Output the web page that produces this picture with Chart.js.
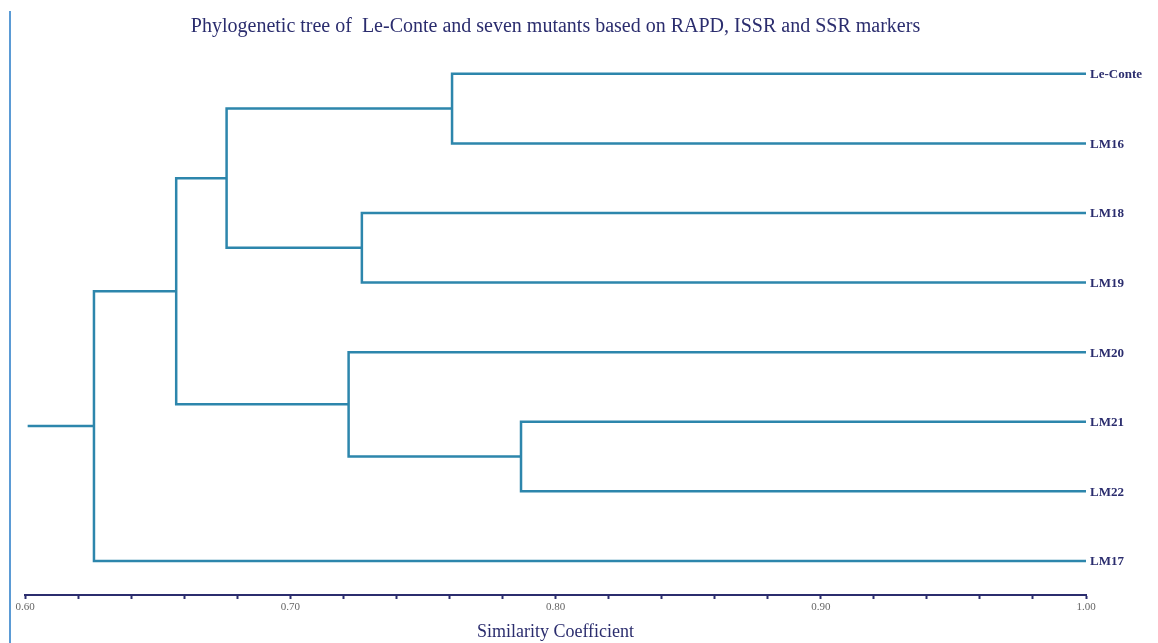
<!DOCTYPE html>
<html>
<head>
<meta charset="utf-8">
<script src="https://cdn.jsdelivr.net/npm/chart.js@4"></script>
<style>
  html, body { margin: 0; padding: 0; background: #fff; }
  #wrap { position: relative; width: 1158px; height: 643px; }
</style>
</head>
<body>
<div id="wrap"><canvas id="tree"></canvas></div>
<script>
// leaves, top to bottom
const leaves = ['Le-Conte', 'LM16', 'LM18', 'LM19', 'LM20', 'LM21', 'LM22', 'LM17'];
// merges: cluster ids 0-7 are leaves, 8+ are the merges in this order
const mergeA = [0, 2, 8, 5, 4, 10, 13];
const mergeB = [1, 3, 9, 6, 11, 12, 7];
const mergeSim = [0.761, 0.727, 0.676, 0.787, 0.722, 0.657, 0.626];
const rootSim = 0.601;
const xTicksMajor = [0.6, 0.7, 0.8, 0.9, 1.0];

const lineColor = '#2d86ac';
const navy = '#2b2d6e';

// build the step lines
const clusterX = leaves.map(() => 1.0);
const clusterY = leaves.map((_, i) => i);
const datasets = [];
for (let i = 0; i < mergeSim.length; i++) {
    const a = mergeA[i], b = mergeB[i], s = mergeSim[i];
    datasets.push({
        data: [
            {x: clusterX[a], y: clusterY[a]},
            {x: s, y: clusterY[a]},
            {x: s, y: clusterY[b]},
            {x: clusterX[b], y: clusterY[b]}
        ]
    });
    clusterX.push(s);
    clusterY.push((clusterY[a] + clusterY[b]) / 2);
}
const rootY = clusterY[clusterY.length - 1];
datasets.push({ data: [{x: rootSim, y: rootY}, {x: mergeSim[mergeSim.length - 1], y: rootY}] });
datasets.forEach(d => {
    d.showLine = true;
    d.borderColor = lineColor;
    d.borderWidth = 2.5;
    d.pointRadius = 0;
    d.fill = false;
    d.tension = 0;
});

const extras = {
    id: 'extras',
    beforeDraw(chart) {
        const c = chart.ctx;
        c.save();
        c.strokeStyle = '#5b9bd5';
        c.lineWidth = 2;
        c.beginPath();
        c.moveTo(10, 11);
        c.lineTo(10, 643);
        c.stroke();
        c.restore();
    },
    afterDraw(chart) {
        const c = chart.ctx;
        const xs = chart.scales.x, ys = chart.scales.y;
        c.save();
        c.fillStyle = navy;
        c.font = 'bold 13px "Liberation Serif", "Times New Roman", serif';
        c.textBaseline = 'middle';
        c.textAlign = 'left';
        leaves.forEach((name, i) => {
            c.fillText(name, xs.getPixelForValue(1.0) + 4, ys.getPixelForValue(i) + 1);
        });
        c.restore();
    }
};

new Chart(document.getElementById('tree'), {
    type: 'scatter',
    data: { datasets: datasets },
    plugins: [extras],
    options: {
        responsive: true,
        maintainAspectRatio: false,
        animation: false,
        layout: { padding: { left: 25, right: 72, top: 0, bottom: 0 } },
        plugins: {
            legend: { display: false },
            tooltip: { enabled: false },
            title: {
                display: true,
                text: 'Phylogenetic tree of  Le-Conte and seven mutants based on RAPD, ISSR and SSR markers',
                color: navy,
                font: { family: '"Liberation Serif", "Times New Roman", serif', size: 20, weight: 'normal' },
                padding: { top: 15, bottom: 0 }
            }
        },
        scales: {
            x: {
                type: 'linear',
                min: 0.6,
                max: 1.0,
                afterFit: s => { s.height = 48; },
                ticks: {
                    stepSize: 0.02,
                    autoSkip: false,
                    maxRotation: 0,
                    padding: 2,
                    color: '#666',
                    font: { family: '"Liberation Serif", serif', size: 11 },
                    callback: v => xTicksMajor.some(t => Math.abs(t - v) < 1e-6) ? v.toFixed(2) : ''
                },
                grid: {
                    drawOnChartArea: false,
                    drawTicks: true,
                    tickLength: 4,
                    color: navy,
                    tickWidth: 2
                },
                border: { color: navy, width: 2 },
                title: {
                    display: true,
                    text: 'Similarity Coefficient',
                    color: navy,
                    font: { family: '"Liberation Serif", "Times New Roman", serif', size: 18 },
                    padding: { top: 0, bottom: 0 }
                }
            },
            y: {
                type: 'linear',
                display: false,
                reverse: true,
                min: -0.5,
                max: 7.49
            }
        }
    }
});
</script>
</body>
</html>
